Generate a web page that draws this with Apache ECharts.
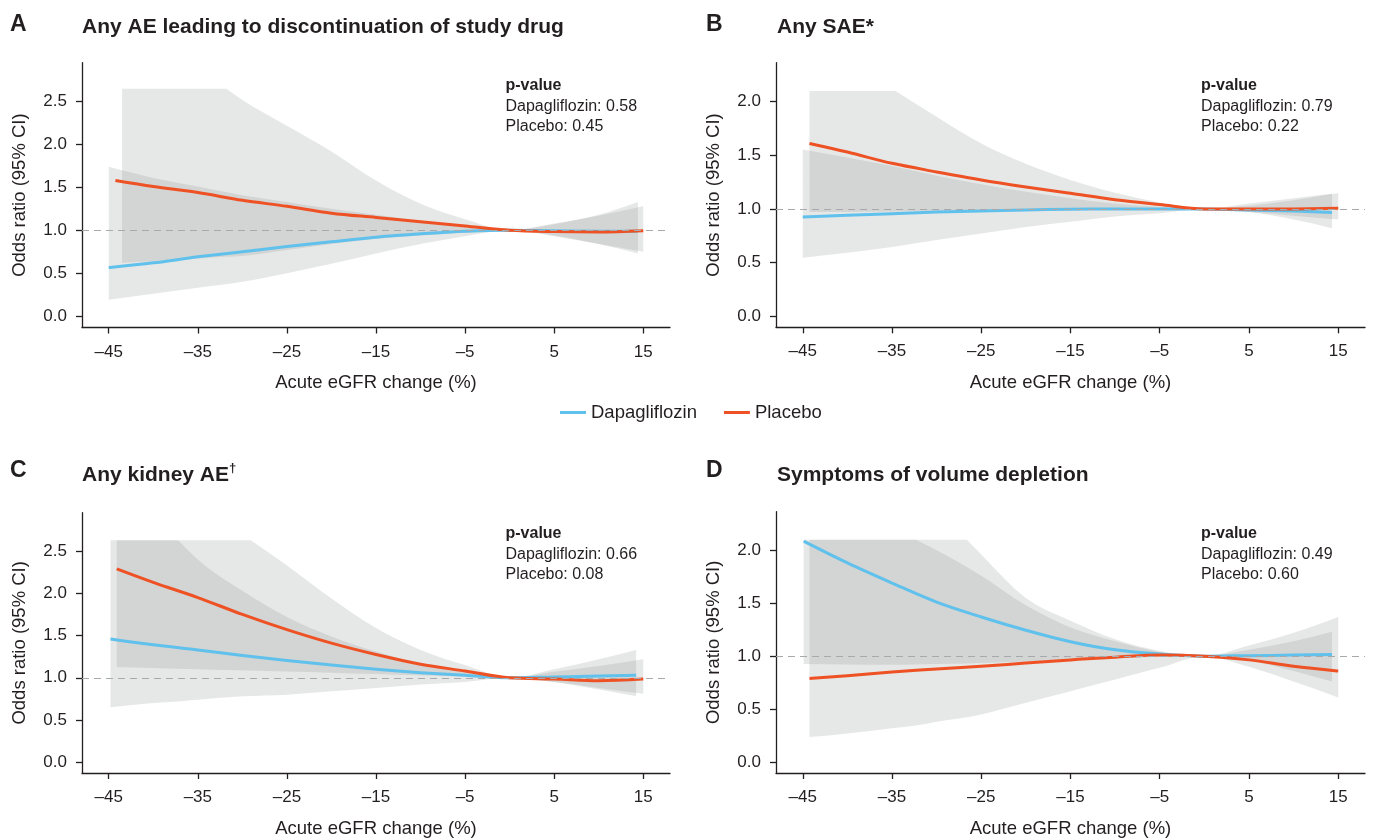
<!DOCTYPE html>
<html>
<head>
<meta charset="utf-8">
<script src="https://cdn.jsdelivr.net/npm/echarts@6/dist/echarts.min.js"></script>
<style>
  html, body { margin: 0; padding: 0; background: #ffffff; }
  #chart { width: 1374px; height: 839px; }
</style>
</head>
<body>
<div id="chart"></div>
<script>
// ---- axis ticks ----
const X_TICKS = [-45, -35, -25, -15, -5, 5, 15];
const Y_TICKS_A = [0, 0.5, 1, 1.5, 2, 2.5];
const Y_TICKS_B = [0, 0.5, 1, 1.5, 2];

// ---- A: Any AE leading to discontinuation of study drug ----
const aDapaX   = [-45, -40, -35, -30, -25, -20, -15, -10, -5, 0, 5, 10, 14.4];
const aDapaOR  = [0.565, 0.62, 0.69, 0.75, 0.81, 0.865, 0.92, 0.96, 0.99, 1.0, 0.995, 0.99, 0.99];
const aDapaLo  = [0.19, 0.26, 0.33, 0.40, 0.50, 0.61, 0.73, 0.84, 0.93, 1.0, 0.94, 0.84, 0.73];
const aDapaHi  = [1.74, 1.61, 1.51, 1.41, 1.33, 1.25, 1.18, 1.11, 1.05, 1.0, 1.07, 1.18, 1.33];
const aPlacX   = [-44.25, -40, -35, -30, -25, -20, -15, -10, -5, 0, 5, 10, 15];
const aPlacOR  = [1.58, 1.51, 1.44, 1.35, 1.28, 1.20, 1.15, 1.10, 1.05, 1.0, 0.985, 0.98, 0.995];
const aPlacCiX = [-43.5, -40, -35, -31.8, -30, -25, -20, -15, -10, -5, 0, 5, 10, 15];
const aPlacLo  = [0.62, 0.64, 0.67, 0.69, 0.70, 0.77, 0.84, 0.90, 0.94, 0.97, 1.0, 0.93, 0.84, 0.75];
const aPlacHi  = [2.65, 2.65, 2.65, 2.65, 2.52, 2.22, 1.92, 1.58, 1.31, 1.13, 1.0, 1.08, 1.17, 1.28];

// ---- B: Any SAE ----
const bDapaX   = [-45, -40, -35, -30, -25, -20, -15, -10, -5, 0, 5, 10, 14.3];
const bDapaOR  = [0.925, 0.94, 0.955, 0.97, 0.98, 0.99, 0.997, 1.0, 1.0, 1.0, 0.99, 0.98, 0.967];
const bDapaLo  = [0.545, 0.59, 0.645, 0.71, 0.77, 0.83, 0.88, 0.93, 0.96, 1.0, 0.97, 0.90, 0.82];
const bDapaHi  = [1.555, 1.48, 1.40, 1.31, 1.23, 1.16, 1.10, 1.05, 1.02, 1.0, 1.03, 1.08, 1.14];
const bPlacX   = [-44.25, -40, -35, -30, -25, -20, -15, -10, -5, 0, 5, 10, 15];
const bPlacOR  = [1.61, 1.53, 1.425, 1.345, 1.27, 1.205, 1.145, 1.085, 1.04, 1.0, 0.998, 1.0, 1.005];
const bPlacCiX = [-44.25, -40, -34.6, -30, -25, -20, -15, -10, -5, 0, 5, 10, 15];
const bPlacLo  = [0.97, 0.972, 0.975, 0.98, 0.983, 0.987, 0.99, 0.993, 0.997, 1.0, 0.97, 0.935, 0.90];
const bPlacHi  = [2.1, 2.1, 2.1, 1.86, 1.61, 1.42, 1.27, 1.15, 1.06, 1.0, 1.05, 1.10, 1.145];

// ---- C: Any kidney AE ----
const cDapaX   = [-44.8, -40, -35, -30, -25, -20, -15, -10, -5, 0, 5, 10, 14.2];
const cDapaOR  = [1.46, 1.39, 1.33, 1.265, 1.205, 1.15, 1.10, 1.06, 1.03, 1.0, 1.01, 1.02, 1.03];
const cDapaCiX = [-44.8, -40, -37.2, -35, -30, -25, -20, -15, -10, -5, 0, 5, 10, 14.2];
const cDapaLo  = [0.65, 0.70, 0.72, 0.74, 0.78, 0.80, 0.84, 0.88, 0.92, 0.95, 1.0, 0.95, 0.86, 0.78];
const cDapaHi  = [2.63, 2.63, 2.63, 2.40, 2.03, 1.72, 1.49, 1.31, 1.17, 1.08, 1.0, 1.10, 1.22, 1.33];
const cPlacX   = [-44.1, -40, -35, -30, -25, -20, -15, -10, -5, 0, 5, 10, 15];
const cPlacOR  = [2.29, 2.13, 1.95, 1.75, 1.57, 1.41, 1.275, 1.16, 1.08, 1.0, 0.985, 0.965, 0.985];
const cPlacCiX = [-44.1, -40, -35, -29.05, -25, -20, -15, -10, -5, 0, 5, 10, 15];
const cPlacLo  = [1.128, 1.115, 1.10, 1.085, 1.075, 1.06, 1.045, 1.03, 1.015, 1.0, 0.95, 0.88, 0.81];
const cPlacHi  = [2.63, 2.63, 2.63, 2.63, 2.33, 1.94, 1.59, 1.33, 1.15, 1.0, 1.07, 1.14, 1.22];

// ---- D: Symptoms of volume depletion ----
const dDapaX   = [-44.9, -40, -35, -30, -25, -20, -15, -10, -5, 0, 5, 10, 14.3];
const dDapaOR  = [2.085, 1.88, 1.69, 1.51, 1.37, 1.245, 1.137, 1.06, 1.02, 1.0, 1.005, 1.01, 1.015];
const dDapaCiX = [-44.9, -40, -35, -30, -26.6, -25, -20, -15, -10, -5, 0, 5, 10, 14.3];
const dDapaLo  = [0.925, 0.921, 0.919, 0.925, 0.93, 0.935, 0.95, 0.966, 0.98, 0.995, 1.0, 0.96, 0.86, 0.76];
const dDapaHi  = [2.1, 2.1, 2.1, 2.1, 2.1, 1.96, 1.55, 1.335, 1.16, 1.05, 1.0, 1.06, 1.14, 1.23];
const dPlacX   = [-44.25, -40, -35, -30, -25, -20, -15, -10, -5, 0, 5, 10, 15];
const dPlacOR  = [0.79, 0.815, 0.85, 0.88, 0.905, 0.935, 0.965, 0.99, 1.012, 1.0, 0.965, 0.905, 0.86];
const dPlacCiX = [-44.25, -40, -35, -32.3, -30, -25, -20, -15, -10, -5, 0, 5, 10, 15];
const dPlacLo  = [0.236, 0.27, 0.32, 0.345, 0.38, 0.45, 0.56, 0.67, 0.78, 0.89, 1.0, 0.90, 0.76, 0.61];
const dPlacHi  = [2.1, 2.1, 2.1, 2.1, 2.0, 1.76, 1.48, 1.27, 1.14, 1.04, 1.0, 1.10, 1.22, 1.37];

// ---- text ----
const PANEL_LETTERS = ['A', 'B', 'C', 'D'];
const PANEL_TITLES = ['Any AE leading to discontinuation of study drug', 'Any SAE*', 'Any kidney AE{sup|\u2020}', 'Symptoms of volume depletion'];
const P_DAPA = ['0.58', '0.79', '0.66', '0.49'];
const P_PLAC = ['0.45', '0.22', '0.08', '0.60'];

const BLUE = '#60C1EC';
const ORANGE = '#EE5224';
const BAND = 'rgba(150,153,156,0.24)';
const INK = '#231F20';
const FONT = "'Liberation Sans', Arial, Helvetica, sans-serif";

const panels = [
  { grid: { left: 82, top: 62.7, width: 588, height: 264.8 }, yMin: -0.134, yMax: 2.955, yTicks: Y_TICKS_A,
    dapa: [aDapaX, aDapaOR, aDapaX, aDapaLo, aDapaHi], plac: [aPlacX, aPlacOR, aPlacCiX, aPlacLo, aPlacHi] },
  { grid: { left: 776, top: 62.7, width: 589, height: 264.6 }, yMin: -0.105, yMax: 2.364, yTicks: Y_TICKS_B,
    dapa: [bDapaX, bDapaOR, bDapaX, bDapaLo, bDapaHi], plac: [bPlacX, bPlacOR, bPlacCiX, bPlacLo, bPlacHi] },
  { grid: { left: 82, top: 512.7, width: 588, height: 264.3 }, yMin: -0.128, yMax: 2.955, yTicks: Y_TICKS_A,
    dapa: [cDapaX, cDapaOR, cDapaCiX, cDapaLo, cDapaHi], plac: [cPlacX, cPlacOR, cPlacCiX, cPlacLo, cPlacHi] },
  { grid: { left: 776, top: 511.7, width: 589, height: 264.6 }, yMin: -0.103, yMax: 2.364, yTicks: Y_TICKS_B,
    dapa: [dDapaX, dDapaOR, dDapaCiX, dDapaLo, dDapaHi], plac: [dPlacX, dPlacOR, dPlacCiX, dPlacLo, dPlacHi] }
];

// Monotone cubic (x-monotone) bezier segments through pixel points
function monoSegments(pts) {
  const n = pts.length;
  const m = new Array(n).fill(0);
  const sgn = v => (v > 0 ? 1 : v < 0 ? -1 : 0);
  for (let i = 1; i < n - 1; i++) {
    const h0 = pts[i][0] - pts[i - 1][0], h1 = pts[i + 1][0] - pts[i][0];
    const s0 = (pts[i][1] - pts[i - 1][1]) / h0, s1 = (pts[i + 1][1] - pts[i][1]) / h1;
    const p = (s0 * h1 + s1 * h0) / (h0 + h1);
    m[i] = (sgn(s0) + sgn(s1)) * Math.min(Math.abs(s0), Math.abs(s1), 0.5 * Math.abs(p)) || 0;
  }
  if (n > 1) {
    const hA = pts[1][0] - pts[0][0];
    m[0] = n > 2 ? (3 * (pts[1][1] - pts[0][1]) / hA - m[1]) / 2 : (pts[1][1] - pts[0][1]) / hA;
    const hB = pts[n - 1][0] - pts[n - 2][0];
    m[n - 1] = n > 2 ? (3 * (pts[n - 1][1] - pts[n - 2][1]) / hB - m[n - 2]) / 2 : (pts[n - 1][1] - pts[n - 2][1]) / hB;
  }
  const segs = [];
  for (let i = 0; i < n - 1; i++) {
    const dx = (pts[i + 1][0] - pts[i][0]) / 3;
    segs.push({
      a: pts[i],
      c1: [pts[i][0] + dx, pts[i][1] + m[i] * dx],
      c2: [pts[i + 1][0] - dx, pts[i + 1][1] - m[i + 1] * dx],
      b: pts[i + 1]
    });
  }
  return segs;
}

// Flat stretches (e.g. a band cut off at the panel cap) stay straight with sharp corners
function curveSegments(pts) {
  const segs = [];
  let start = 0;
  for (let i = 0; i < pts.length - 1; i++) {
    if (Math.abs(pts[i][1] - pts[i + 1][1]) < 1e-6) {
      if (i > start) segs.push(...monoSegments(pts.slice(start, i + 1)));
      segs.push({ a: pts[i], c1: pts[i], c2: pts[i + 1], b: pts[i + 1] });
      start = i + 1;
    }
  }
  if (pts.length - 1 > start) segs.push(...monoSegments(pts.slice(start)));
  return segs;
}

const f2 = v => v.toFixed(2);
function pathThrough(pts) {
  let d = 'M' + f2(pts[0][0]) + ' ' + f2(pts[0][1]);
  curveSegments(pts).forEach(s => {
    d += ' C' + f2(s.c1[0]) + ' ' + f2(s.c1[1]) + ' ' + f2(s.c2[0]) + ' ' + f2(s.c2[1]) + ' ' + f2(s.b[0]) + ' ' + f2(s.b[1]);
  });
  return d;
}

function bandRenderer(xs, lo, hi) {
  return function (params, api) {
    const up = xs.map((x, i) => api.coord([x, hi[i]]));
    const dn = xs.map((x, i) => api.coord([x, lo[i]]));
    let d = pathThrough(up);
    const last = dn[dn.length - 1];
    d += ' L' + f2(last[0]) + ' ' + f2(last[1]);
    curveSegments(dn).reverse().forEach(s => {
      d += ' C' + f2(s.c2[0]) + ' ' + f2(s.c2[1]) + ' ' + f2(s.c1[0]) + ' ' + f2(s.c1[1]) + ' ' + f2(s.a[0]) + ' ' + f2(s.a[1]);
    });
    d += ' Z';
    return { type: 'path', shape: { pathData: d }, style: { fill: BAND }, silent: true };
  };
}

function curveRenderer(xs, ys, color) {
  return function (params, api) {
    const pts = xs.map((x, i) => api.coord([x, ys[i]]));
    return {
      type: 'path', shape: { pathData: pathThrough(pts) },
      style: { fill: 'none', stroke: color, lineWidth: 3, lineCap: 'butt', lineJoin: 'round' }, silent: true
    };
  };
}

const dashFmt = v => (v < 0 ? '\u2013' + Math.abs(v) : String(v));

const grids = [], xAxes = [], yAxes = [], series = [], graphics = [];

panels.forEach((p, k) => {
  grids.push(Object.assign({ containLabel: false }, p.grid));
  xAxes.push({
    gridIndex: k, type: 'value', min: -48, max: 18,
    name: 'Acute eGFR change (%)', nameLocation: 'middle', nameGap: 46,
    nameTextStyle: { fontFamily: FONT, fontSize: 18.5, color: INK },
    axisLine: { show: true, onZero: false, lineStyle: { color: INK, width: 1.3 } },
    axisTick: { show: true, length: 6, customValues: X_TICKS, lineStyle: { color: INK, width: 1.3 } },
    axisLabel: { customValues: X_TICKS, formatter: dashFmt, margin: 16, fontFamily: FONT, fontSize: 17, color: INK },
    splitLine: { show: false }
  });
  yAxes.push({
    gridIndex: k, type: 'value', min: p.yMin, max: p.yMax,
    name: 'Odds ratio (95% CI)', nameLocation: 'middle', nameGap: 53,
    nameTextStyle: { fontFamily: FONT, fontSize: 18.5, color: INK },
    axisLine: { show: true, onZero: false, lineStyle: { color: INK, width: 1.3 } },
    axisTick: { show: true, length: 6, customValues: p.yTicks, lineStyle: { color: INK, width: 1.3 } },
    axisLabel: { customValues: p.yTicks, formatter: v => v.toFixed(1), margin: 15, fontFamily: FONT, fontSize: 17, color: INK },
    splitLine: { show: false }
  });

  // confidence bands
  [p.dapa, p.plac].forEach((s, j) => {
    series.push({
      type: 'custom', name: (j ? 'Placebo' : 'Dapagliflozin') + ' 95% CI',
      xAxisIndex: k, yAxisIndex: k, z: 1, silent: true,
      data: [[s[2][0], s[3][0]]],
      renderItem: bandRenderer(s[2], s[3], s[4])
    });
  });

  // reference line at OR = 1
  series.push({
    type: 'line', name: 'ref', xAxisIndex: k, yAxisIndex: k, data: [], z: 2, silent: true,
    markLine: {
      silent: true, symbol: 'none', label: { show: false },
      lineStyle: { color: '#A7A9AC', width: 1.2, type: [7, 5] },
      data: [{ yAxis: 1 }]
    }
  });

  // odds-ratio curves
  [[p.dapa, 'Dapagliflozin', BLUE, 3], [p.plac, 'Placebo', ORANGE, 4]].forEach(([s, name, color, z]) => {
    series.push({
      type: 'custom', name: name, xAxisIndex: k, yAxisIndex: k, z: z, silent: true,
      data: [[s[0][0], s[1][0]]],
      itemStyle: { color: color },
      renderItem: curveRenderer(s[0], s[1], color)
    });
  });

  // panel letter, title and p-values
  const top = k < 2 ? 0 : 449;
  const pLeft = k % 2 ? 1201 : 505.5;
  graphics.push({
    type: 'text', x: k % 2 ? 706 : 10, y: top + (k < 2 ? 25 : 22),
    style: { text: PANEL_LETTERS[k], fontFamily: FONT, fontSize: 23, fontWeight: 'bold', fill: INK, verticalAlign: 'middle' }
  });
  graphics.push({
    type: 'text', x: k % 2 ? 777 : 82, y: top + (k < 2 ? 27 : 26),
    style: {
      text: PANEL_TITLES[k], fontFamily: FONT, fontSize: 21, fontWeight: 'bold', fill: INK, verticalAlign: 'middle',
      rich: { sup: { fontFamily: FONT, fontSize: 13, fontWeight: 'bold', fill: INK, verticalAlign: 'top', lineHeight: 26 } },
      lineHeight: 26
    }
  });
  const pTop = k < 2 ? 86 : 534;
  graphics.push({
    type: 'text', x: pLeft, y: pTop,
    style: { text: 'p-value', fontFamily: FONT, fontSize: 16, fontWeight: 'bold', fill: INK, verticalAlign: 'middle' }
  });
  graphics.push({
    type: 'text', x: pLeft, y: pTop + 20.5,
    style: { text: 'Dapagliflozin: ' + P_DAPA[k], fontFamily: FONT, fontSize: 16, fill: INK, verticalAlign: 'middle' }
  });
  graphics.push({
    type: 'text', x: pLeft, y: pTop + 41,
    style: { text: 'Placebo: ' + P_PLAC[k], fontFamily: FONT, fontSize: 16, fill: INK, verticalAlign: 'middle' }
  });
});

const chart = echarts.init(document.getElementById('chart'), null, { renderer: 'canvas' });
chart.setOption({
  backgroundColor: '#ffffff',
  animation: false,
  textStyle: { fontFamily: FONT },
  grid: grids,
  xAxis: xAxes,
  yAxis: yAxes,
  legend: {
    data: ['Dapagliflozin', 'Placebo'], left: 555, top: 398,
    icon: 'rect', itemWidth: 26, itemHeight: 3, itemGap: 27, selectedMode: false,
    textStyle: { fontFamily: FONT, fontSize: 18.5, color: INK }
  },
  graphic: graphics,
  series: series
});
</script>
</body>
</html>
